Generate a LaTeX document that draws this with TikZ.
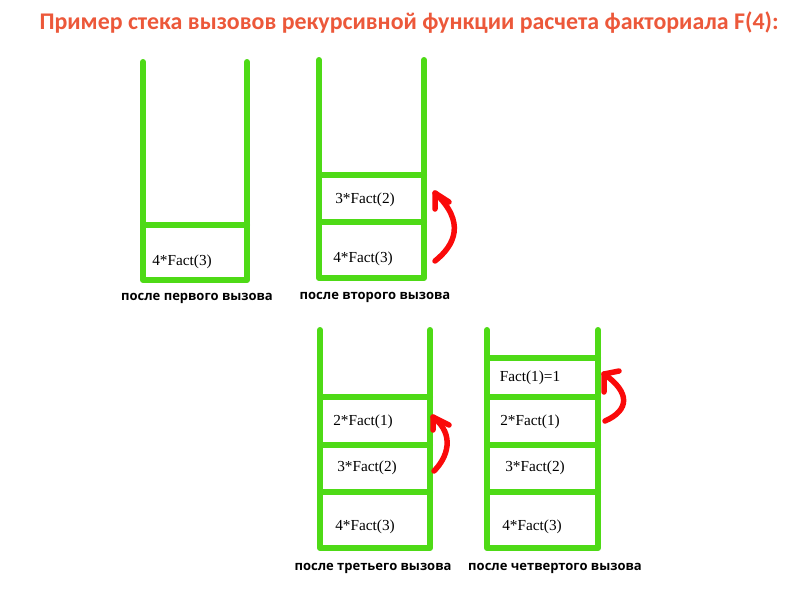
\documentclass[tikz,border=0pt]{standalone}
\usepackage{fontspec}
\setmainfont{Liberation Serif}
\newfontfamily\titlefont{Carlito}
\newfontfamily\capfont{Open Sans}
\usetikzlibrary{arrows.meta}

\definecolor{stackgreen}{RGB}{78,218,22}
\definecolor{callred}{RGB}{250,10,10}
\definecolor{headred}{RGB}{236,88,58}

\tikzset{
	wall/.style={draw=stackgreen,line width=6pt,line cap=round,line join=round},
	frame/.style={font=\fontsize{15.3}{17}\selectfont,inner sep=0pt},
	caption/.style={font=\capfont\bfseries\fontsize{13}{15}\selectfont,inner sep=0pt},
	callarrow/.style={draw=callred,line width=5.5pt,line cap=round,line join=round}
}

\begin{document}
\begin{tikzpicture}[x=1pt,y=-1pt]
		\useasboundingbox (0,0) rectangle (800,600);

		\node[font=\titlefont\bfseries\fontsize{23.9}{28}\selectfont,text=headred] (title) at (409,23)
			{Пример стека вызовов рекурсивной функции расчета факториала F(4):};

		% first call
		\draw[wall] (143,62) -- (143,280) -- (247,280) -- (247,62);
		\draw[wall] (143,225) -- (247,225);
		\node[frame] (s1f3) at (182,262) {4*Fact(3)};
		\node[caption] (cap1) at (197,298) {после первого вызова};

		% second call
		\draw[wall] (319,60) -- (319,278) -- (424,278) -- (424,60);
		\draw[wall] (319,175) -- (424,175);
		\draw[wall] (319,222) -- (424,222);
		\node[frame] (s2f2) at (365,200) {3*Fact(2)};
		\node[frame] (s2f3) at (363,259) {4*Fact(3)};
		\node[caption] (cap2) at (375,297) {после второго вызова};

		% third call
		\draw[wall] (320,330) -- (320,548) -- (430,548) -- (430,330);
		\draw[wall] (320,397) -- (430,397);
		\draw[wall] (320,445) -- (430,445);
		\draw[wall] (320,492) -- (430,492);
		\node[frame] (s3f1) at (363,422) {2*Fact(1)};
		\node[frame] (s3f2) at (367,468) {3*Fact(2)};
		\node[frame] (s3f3) at (365,527) {4*Fact(3)};
		\node[caption] (cap3) at (373,568) {после третьего вызова};

		% fourth call
		\draw[wall] (487,330) -- (487,548) -- (598,548) -- (598,330);
		\draw[wall] (487,358) -- (598,358);
		\draw[wall] (487,397) -- (598,397);
		\draw[wall] (487,445) -- (598,445);
		\draw[wall] (487,492) -- (598,492);
		\node[frame] (s4f0) at (530,378) {Fact(1)=1};
		\node[frame] (s4f1) at (530,422) {2*Fact(1)};
		\node[frame] (s4f2) at (535,468) {3*Fact(2)};
		\node[frame] (s4f3) at (532,527) {4*Fact(3)};
		\node[caption] (cap4) at (555,568) {после четвертого вызова};

		% red arrows
		\coordinate (t2) at (435,193);
		\draw[callarrow] (435,261) .. controls (455,245) and (466,222) .. (t2);
		\draw[callarrow] (435,209) -- (t2) -- (449,202);

		\coordinate (t3) at (433,417);
		\draw[callarrow] (434,471) .. controls (447,458) and (456,435) .. (t3);
		\draw[callarrow] (433,430) -- (t3) -- (449,425);

		\coordinate (t4) at (604,374);
		\draw[callarrow] (605,421) .. controls (630,410) and (630,392) .. (t4);
		\draw[callarrow] (604,392) -- (t4) -- (619,371);
\end{tikzpicture}
\end{document}
